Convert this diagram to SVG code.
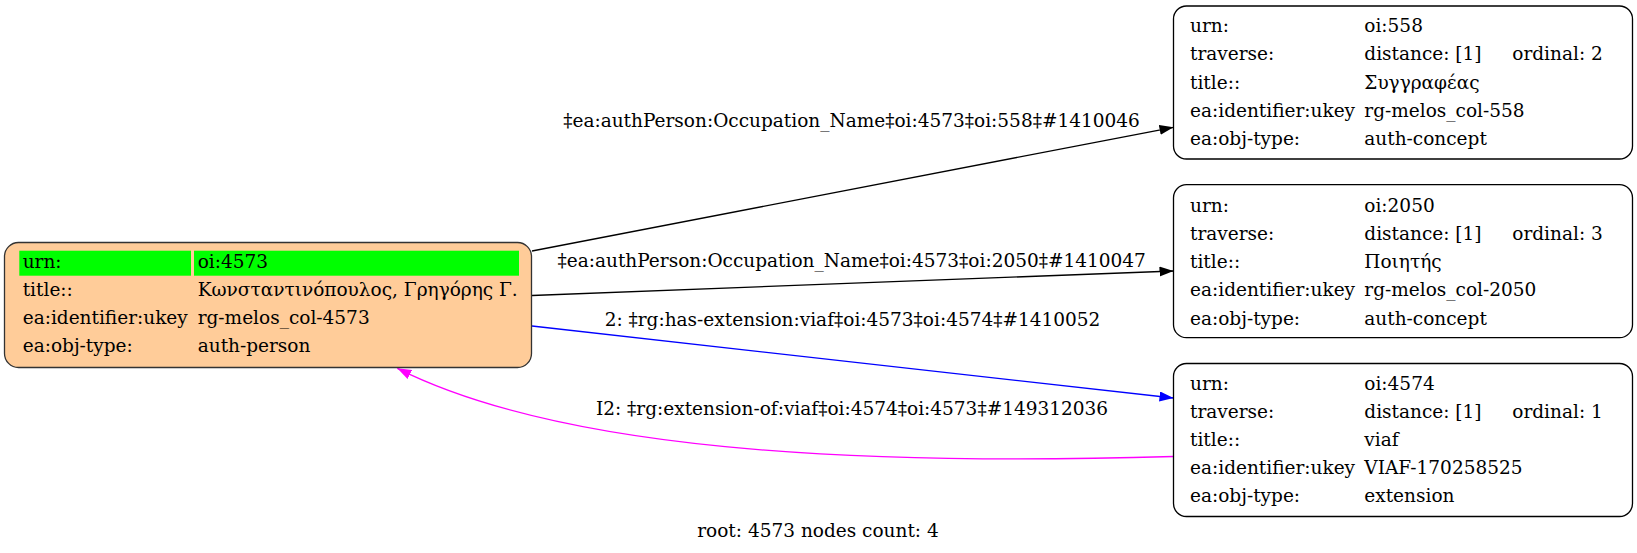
<svg xmlns="http://www.w3.org/2000/svg" width="1637" height="553" viewBox="0 0 1637 553">
<style>
text{font-family:"DejaVu Serif","Liberation Serif",serif;font-size:18.5px;fill:#000}
.lbl{text-anchor:middle}
.node rect.box{fill:#fff;stroke:#000;stroke-width:1.3}
.edge{fill:none;stroke-width:1.3}
</style>
<defs>
<marker id="aBlack" markerUnits="userSpaceOnUse" markerWidth="15" markerHeight="11" refX="14" refY="5" orient="auto"><path d="M0,0 L14,5 L0,10 z" fill="#000"/></marker>
<marker id="aBlue" markerUnits="userSpaceOnUse" markerWidth="15" markerHeight="11" refX="14" refY="5" orient="auto"><path d="M0,0 L14,5 L0,10 z" fill="#0000ff"/></marker>
<marker id="aMag" markerUnits="userSpaceOnUse" markerWidth="15" markerHeight="11" refX="14" refY="5" orient="auto"><path d="M0,0 L14,5 L0,10 z" fill="#ff00ff"/></marker>
</defs>
<rect x="0" y="0" width="1637" height="553" fill="#fff"/>
<g id="connectors">
<path class="edge" d="M532,251 L1173.5,127.3" stroke="#000" marker-end="url(#aBlack)"/>
<path class="edge" d="M532,295.5 L1173.5,271" stroke="#000" marker-end="url(#aBlack)"/>
<path class="edge" d="M532,326 L1173.5,398" stroke="#0000ff" marker-end="url(#aBlue)"/>
<path class="edge" d="M1173.5,456.5 C850,466 560,450 397.3,368.3" stroke="#ff00ff" marker-end="url(#aMag)"/>
<text class="lbl" x="851.5" y="127.3">‡ea:authPerson:Occupation_Name‡oi:4573‡oi:558‡#1410046</text>
<text class="lbl" x="851.7" y="266.7">‡ea:authPerson:Occupation_Name‡oi:4573‡oi:2050‡#1410047</text>
<text class="lbl" x="852.5" y="326">2: ‡rg:has-extension:viaf‡oi:4573‡oi:4574‡#1410052</text>
<text class="lbl" x="852" y="415">I2: ‡rg:extension-of:viaf‡oi:4574‡oi:4573‡#149312036</text>
</g>
<g id="n4573" class="node">
<rect x="4.5" y="242.5" width="527" height="125" rx="14" fill="#ffcc99" stroke="#333" stroke-width="1.3"/>
<rect x="19.3" y="250.7" width="171.7" height="25" fill="#00ff00"/>
<rect x="194" y="250.7" width="325" height="25" fill="#00ff00"/>
<text x="22.7" y="267.7">urn:</text><text x="197.7" y="267.7">oi:4573</text>
<text x="22.7" y="296">title::</text><text x="197.7" y="296">Κωνσταντινόπουλος, Γρηγόρης Γ.</text>
<text x="22.7" y="324.3">ea:identifier:ukey</text><text x="197.7" y="324.3">rg-melos_col-4573</text>
<text x="22.7" y="352.3">ea:obj-type:</text><text x="197.7" y="352.3">auth-person</text>
</g>
<g id="n558" class="node">
<rect class="box" x="1173.5" y="6" width="459" height="153" rx="13"/>
<text x="1190" y="32">urn:</text><text x="1364.3" y="32">oi:558</text>
<text x="1190" y="60.3">traverse:</text><text x="1364.3" y="60.3">distance: [1]</text><text x="1512.3" y="60.3">ordinal: 2</text>
<text x="1190" y="88.6">title::</text><text x="1364.3" y="88.6">Συγγραφέας</text>
<text x="1190" y="116.9">ea:identifier:ukey</text><text x="1364.3" y="116.9">rg-melos_col-558</text>
<text x="1190" y="145.2">ea:obj-type:</text><text x="1364.3" y="145.2">auth-concept</text>
</g>
<g id="n2050" class="node">
<rect class="box" x="1173.5" y="184.7" width="459" height="153" rx="13"/>
<text x="1190" y="211.5">urn:</text><text x="1364.3" y="211.5">oi:2050</text>
<text x="1190" y="239.8">traverse:</text><text x="1364.3" y="239.8">distance: [1]</text><text x="1512.3" y="239.8">ordinal: 3</text>
<text x="1190" y="268.1">title::</text><text x="1364.3" y="268.1">Ποιητής</text>
<text x="1190" y="296.4">ea:identifier:ukey</text><text x="1364.3" y="296.4">rg-melos_col-2050</text>
<text x="1190" y="324.7">ea:obj-type:</text><text x="1364.3" y="324.7">auth-concept</text>
</g>
<g id="n4574" class="node">
<rect class="box" x="1173.5" y="363.5" width="459" height="153" rx="13"/>
<text x="1190" y="390">urn:</text><text x="1364.3" y="390">oi:4574</text>
<text x="1190" y="418">traverse:</text><text x="1364.3" y="418">distance: [1]</text><text x="1512.3" y="418">ordinal: 1</text>
<text x="1190" y="446">title::</text><text x="1364.3" y="446">viaf</text>
<text x="1190" y="474">ea:identifier:ukey</text><text x="1364.3" y="474">VIAF-170258525</text>
<text x="1190" y="502">ea:obj-type:</text><text x="1364.3" y="502">extension</text>
</g>
<text class="lbl" x="818" y="537.3">root: 4573 nodes count: 4</text>
</svg>
